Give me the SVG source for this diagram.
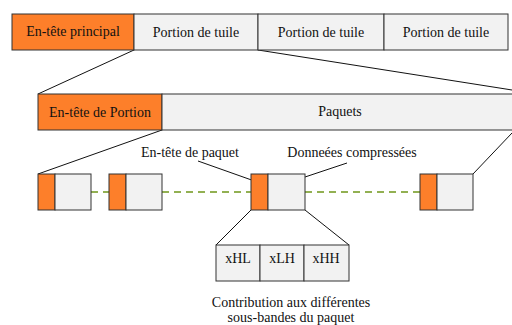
<svg xmlns="http://www.w3.org/2000/svg" width="512" height="325" viewBox="0 0 512 325">
<style>
.o{fill:#fd7f2a;stroke:#333;stroke-width:1}
.g{fill:#f2f2f2;stroke:#333;stroke-width:1}
.t{font-family:'Liberation Serif','Times New Roman','DejaVu Serif',serif;font-size:14px;fill:#111;text-anchor:middle}
.l{stroke:#111;stroke-width:1;fill:none}
.d{stroke:#6f961a;stroke-width:1.4;stroke-dasharray:7 5;fill:none}
</style>
<rect width="512" height="325" fill="#fff"/>
<g id="connectors">
<line class="l" x1="134" y1="50" x2="38" y2="94"/>
<line class="l" x1="258" y1="50" x2="512" y2="90"/>
<line class="l" x1="162" y1="130" x2="38" y2="174"/>
<line class="l" x1="512" y1="133" x2="473" y2="174"/>
<line class="d" x1="91" y1="192" x2="109" y2="192"/>
<line class="d" x1="162" y1="192" x2="251" y2="192"/>
<line class="d" x1="305" y1="192" x2="420" y2="192"/>
<line class="l" x1="198" y1="161" x2="260" y2="183"/>
<line class="l" x1="347" y1="163" x2="287" y2="183"/>
<line class="l" x1="251" y1="210" x2="216" y2="245"/>
<line class="l" x1="305" y1="210" x2="349" y2="245"/>
</g>
<g id="entete-principal"><rect class="o" x="12" y="14" width="122" height="36"/><text class="t" x="73" y="36" font-family="Liberation Serif, serif">En-tête principal</text></g>
<g id="portion1"><rect class="g" x="134" y="14" width="124" height="36"/><text class="t" x="196" y="37">Portion de tuile</text></g>
<g id="portion2"><rect class="g" x="258" y="14" width="126" height="36"/><text class="t" x="321" y="37">Portion de tuile</text></g>
<g id="portion3"><rect class="g" x="384" y="14" width="124" height="36"/><text class="t" x="446" y="37">Portion de tuile</text></g>
<g id="entete-portion"><rect class="o" x="38" y="94" width="124" height="36"/><text class="t" x="100" y="117">En-tête de Portion</text></g>
<g id="paquets"><rect class="g" x="162" y="94" width="360" height="36"/><text class="t" x="340" y="116">Paquets</text></g>
<g id="paquet1"><rect class="o" x="38" y="174" width="17" height="36"/><rect class="g" x="55" y="174" width="36" height="36"/></g>
<g id="paquet2"><rect class="o" x="109" y="174" width="17" height="36"/><rect class="g" x="126" y="174" width="36" height="36"/></g>
<g id="paquet3"><rect class="o" x="251" y="174" width="17" height="36"/><rect class="g" x="268" y="174" width="37" height="36"/></g>
<g id="paquet4"><rect class="o" x="420" y="174" width="17" height="36"/><rect class="g" x="437" y="174" width="36" height="36"/></g>
<g id="label-entete-paquet"><text class="t" x="190" y="157">En-tête de paquet</text></g>
<g id="label-donnees"><text class="t" x="352" y="157">Donneées compressées</text></g>
<g id="xHL"><rect class="g" x="216" y="245" width="44" height="36"/><text class="t" x="238" y="263">xHL</text></g>
<g id="xLH"><rect class="g" x="260" y="245" width="44" height="36"/><text class="t" x="282" y="263">xLH</text></g>
<g id="xHH"><rect class="g" x="304" y="245" width="45" height="36"/><text class="t" x="326" y="263">xHH</text></g>
<g id="caption"><text class="t" x="291" y="307">Contribution aux différentes</text><text class="t" x="291" y="322">sous-bandes du paquet</text></g>
</svg>
